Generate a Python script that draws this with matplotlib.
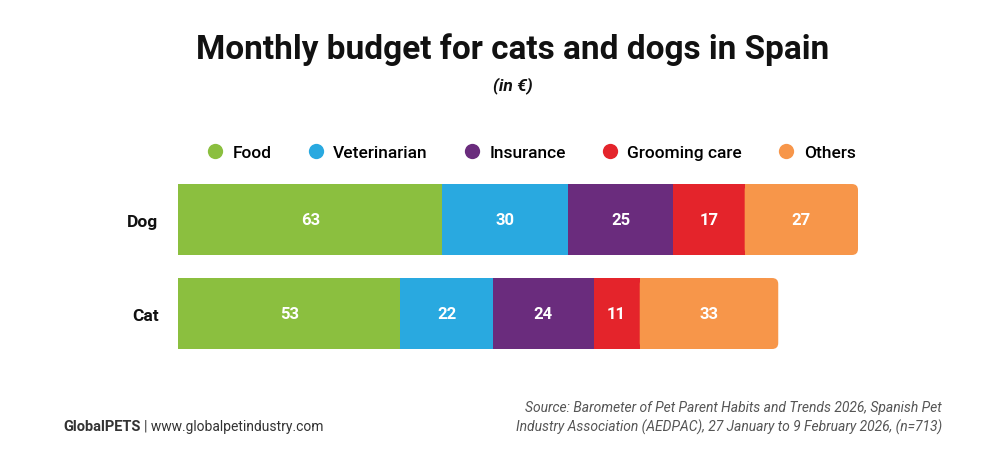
import matplotlib
matplotlib.use("Agg")
import matplotlib.pyplot as plt
from matplotlib.patches import FancyBboxPatch
from matplotlib.lines import Line2D

plt.rcParams['font.family'] = ['Roboto', 'DejaVu Sans']

# data
animals = ["Dog", "Cat"]
categories = ["Food", "Veterinarian", "Insurance", "Grooming care", "Others"]
dog_values = [63, 30, 25, 17, 27]
cat_values = [53, 22, 24, 11, 33]
colors = ["#8BBF3F", "#29A9E0", "#6A2C7D", "#E4242B", "#F7964A"]

fig = plt.figure(figsize=(10, 4.6), dpi=100)
ax = fig.add_axes([0.178, 0.2141, 0.68, 0.4087])

ypos = [1, 0]
bar_h = 0.755
radius_x = 1.45
aspect = 0.064 / radius_x

for y, vals in zip(ypos, [dog_values, cat_values]):
    left = 0
    for i, (v, c) in enumerate(zip(vals, colors)):
        if i == len(vals) - 1:
            # square left part + rounded right end
            ax.barh(y, v - 2 * radius_x, left=left, height=bar_h, color=c, linewidth=0)
            ax.add_patch(FancyBboxPatch((left, y - bar_h / 2), v, bar_h,
                                        boxstyle=f"round,pad=0,rounding_size={radius_x}",
                                        mutation_aspect=aspect, facecolor=c, edgecolor="none"))
        else:
            ax.barh(y, v, left=left, height=bar_h, color=c, linewidth=0)
        ax.text(left + v / 2, y, str(v), ha="center", va="center", color="white",
                fontsize=12, fontweight="bold")
        left += v

ax.set_xlim(0, sum(dog_values))
ax.set_ylim(-0.5, 1.5)
ax.set_yticks(ypos)
ax.set_yticklabels(animals, fontsize=12.5, fontweight="bold", color="#111111")
ax.tick_params(axis="y", length=0, pad=14)
ax.set_xticks([])
for s in ax.spines.values():
    s.set_visible(False)

fig.text(0.513, 0.893, "Monthly budget for cats and dogs in Spain", ha="center", va="center",
         fontsize=24, fontweight="bold", color="#111111")
fig.text(0.513, 0.813, "(in €)", ha="center", va="center", fontsize=12.5,
         fontweight="bold", style="italic", color="#111111")

handles = [Line2D([], [], marker="o", linestyle="none", markersize=11,
                  markerfacecolor=c, markeredgecolor="none") for c in colors]
fig.legend(handles, categories, loc="center", bbox_to_anchor=(0.531, 0.667), ncol=5,
           frameon=False, handlelength=1.0, handletextpad=0.5, columnspacing=2.05,
           prop={"weight": "medium", "size": 12.5})

brand = fig.text(0.063, 0.072, "GlobalPETS", ha="left", va="center", fontsize=10.5,
                 fontweight="bold", color="#333333")
fig.canvas.draw()
bb = brand.get_window_extent()
fig.text((bb.x1 + 4) / fig.bbox.width, 0.072, "| www.globalpetindustry.com", ha="left",
         va="center", fontsize=10, color="#333333")
fig.text(0.942, 0.113, "Source: Barometer of Pet Parent Habits and Trends 2026, Spanish Pet",
         ha="right", va="center", fontsize=10, style="italic", color="#555555")
fig.text(0.942, 0.072, "Industry Association (AEDPAC), 27 January to 9 February 2026, (n=713)",
         ha="right", va="center", fontsize=10, style="italic", color="#555555")

fig.savefig("out.png", dpi=100)
